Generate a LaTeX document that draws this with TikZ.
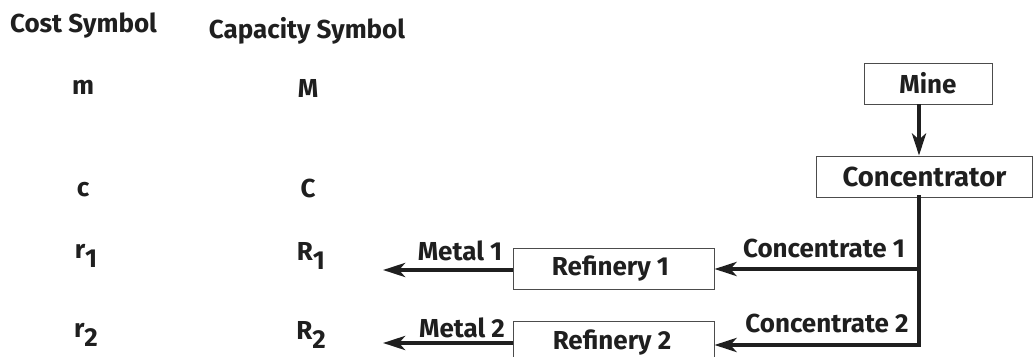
\documentclass[tikz,border=0pt]{standalone}
\usepackage{fontspec}
\setmainfont{Fira Sans}
\usetikzlibrary{arrows.meta}
\newcommand\lowsub[1]{\raisebox{-9pt}{#1}}
\begin{document}
\begin{tikzpicture}[x=1pt,y=-1pt,
  every node/.style={font=\fontsize{26}{29}\selectfont\bfseries, text=black!88, inner sep=0pt},
  unitbox/.style={draw=black!70, line width=0.9pt, minimum height=41pt, anchor=center},
  flow/.style={line width=4pt, draw=black!88, -{Stealth[length=22pt,width=14pt,inset=6pt]}},
  trunkline/.style={line width=4pt, draw=black!88, line cap=rect}]
\useasboundingbox (0,0) rectangle (1033,356);
% left columns
\node[anchor=base] (costh) at (83.5,32) {Cost Symbol};
\node[anchor=base] (caph) at (307,38) {Capacity Symbol};
\node[anchor=base] (m) at (83,94) {m};
\node[anchor=base] (M) at (308,97) {M};
\node[anchor=base] (c) at (83,196) {c};
\node[anchor=base] (C) at (308,197) {C};
\node[anchor=base] (r1) at (86,258) {r\lowsub{1}};
\node[anchor=base] (R1) at (311,260) {R\lowsub{1}};
\node[anchor=base] (r2) at (86,337) {r\lowsub{2}};
\node[anchor=base] (R2) at (311,339) {R\lowsub{2}};
% units
\node[unitbox, minimum width=128pt] (mine) at (928,83.5) {Mine};
\node[unitbox, minimum width=216.5pt, font=\fontsize{27.5}{30}\selectfont\bfseries] (conc) at (924.5,176.5) {Concentrator};
\node[unitbox, minimum width=201pt] (ref1) at (613.5,268.5) {\hspace*{-6pt}Refinery 1};
\node[unitbox, minimum width=201pt] (ref2) at (613.5,341.5) {};
\node[anchor=base] (ref2t) at (612,349) {Refinery 2};
% junctions
\coordinate (j1) at (919,269);
\coordinate (j2) at (919,345);
\coordinate (o1) at (383,270);
\coordinate (o2) at (383,343);
% connectors
\draw[flow] (mine.south -| j1) -- (conc.north -| j1);
\draw[trunkline] (conc.south -| j1) -- (j2);
\draw[flow] (j1) -- (ref1.east |- j1);
\draw[flow] (j2) -- (ref2.east |- j2);
\draw[flow] (ref1.west |- o1) -- (o1);
\draw[flow] (ref2.west |- o2) -- (o2);
% labels
\node[anchor=base] (lc1) at (824,257) {Concentrate 1};
\node[anchor=base] (lc2) at (827,332) {Concentrate 2};
\node[anchor=base] (lm1) at (460,260) {Metal 1};
\node[anchor=base] (lm2) at (462,337) {Metal 2};
\end{tikzpicture}
\end{document}
